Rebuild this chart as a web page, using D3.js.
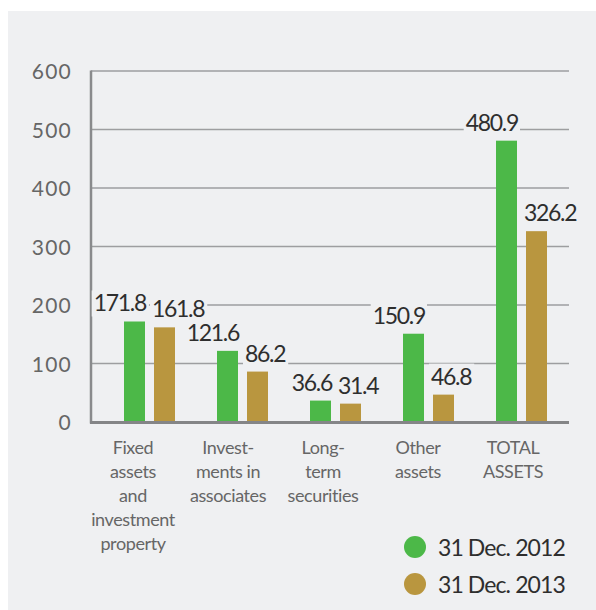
<!DOCTYPE html>
<html>
<head>
<meta charset="utf-8">
<script src="https://cdn.jsdelivr.net/npm/d3@7"></script>
<style>
  html, body { margin: 0; padding: 0; background: #ffffff; }
  svg { display: block; }
</style>
</head>
<body>
<svg id="chart" width="596" height="610"></svg>
<script>
// Assets breakdown, 2012 vs 2013
const categories = [
  ["Fixed", "assets", "and", "investment", "property"],
  ["Invest-", "ments in", "associates"],
  ["Long-", "term", "securities"],
  ["Other", "assets"],
  ["TOTAL", "ASSETS"]
];
const categoryKeys = ["fixed", "associates", "securities", "other", "total"];
const series2012 = [171.8, 121.6, 36.6, 150.9, 480.9];
const series2013 = [161.8, 86.2, 31.4, 46.8, 326.2];
const seriesNames = ["31 Dec. 2012", "31 Dec. 2013"];
const seriesColors = ["#4cb848", "#b9963f"];
const yTicks = [0, 100, 200, 300, 400, 500, 600];

const svg = d3.select("#chart");
const FONT = "Lato, 'Open Sans', sans-serif";
const PANEL = "#eff0f2";

svg.append("rect")
  .attr("x", 8).attr("y", 11)
  .attr("width", 588).attr("height", 599)
  .attr("fill", PANEL);

const plotLeft = 91, plotRight = 569;
const y = d3.scaleLinear().domain([0, 600]).range([422, 71]);

// bar group centres and category label centres
const xGroup = d3.scalePoint().domain(categoryKeys).range([149.5, 521.5]);
const xLabel = d3.scalePoint().domain(categoryKeys).range([133, 513]);
const xSeries = d3.scaleBand().domain([0, 1]).range([-25.5, 25.5]).paddingInner(0.3);

// gridlines
svg.append("g")
  .selectAll("line")
  .data(yTicks.filter(t => t > 0))
  .join("line")
  .attr("x1", plotLeft).attr("x2", plotRight)
  .attr("y1", d => y(d)).attr("y2", d => y(d))
  .attr("stroke", "#9d9ea0")
  .attr("stroke-width", 1.5);

// y axis line
svg.append("line")
  .attr("x1", plotLeft).attr("x2", plotLeft)
  .attr("y1", y(600) - 0.5).attr("y2", y(0) + 1.5)
  .attr("stroke", "#898a8c").attr("stroke-width", 2.5);

// tick labels
const yAxis = d3.axisLeft(y).tickValues(yTicks).tickSize(0).tickPadding(19);
const yAxisG = svg.append("g")
  .attr("transform", `translate(${plotLeft},0)`)
  .call(yAxis);
yAxisG.select(".domain").remove();
yAxisG.selectAll("text")
  .attr("font-family", FONT)
  .attr("font-weight", 400)
  .attr("font-size", 21)
  .attr("letter-spacing", 1.2)
  .attr("fill", "#666666")
  .attr("dy", "0.36em");

// bars
const rows = categoryKeys.map((k, i) => ({ key: k, values: [series2012[i], series2013[i]] }));
const groups = svg.append("g").selectAll("g")
  .data(rows)
  .join("g")
  .attr("transform", d => `translate(${xGroup(d.key)},0)`);

groups.selectAll("rect")
  .data(d => d.values.map((v, s) => ({ v, s })))
  .join("rect")
  .attr("x", d => xSeries(d.s))
  .attr("width", xSeries.bandwidth())
  .attr("y", d => y(d.v))
  .attr("height", d => y(0) - y(d.v))
  .attr("fill", d => seriesColors[d.s]);

// baseline
svg.append("line")
  .attr("x1", plotLeft - 1).attr("x2", plotRight)
  .attr("y1", y(0) + 0.5).attr("y2", y(0) + 0.5)
  .attr("stroke", "#848587").attr("stroke-width", 3);

// value labels with backgrounds that mask the gridlines
const labelLayer = svg.append("g");
rows.forEach(r => {
  r.values.forEach((v, s) => {
    const bx = xGroup(r.key) + xSeries(s);
    const g = labelLayer.append("g");
    const t = g.append("text")
      .attr("x", s === 0 ? bx + xSeries.bandwidth() + 1 : bx - 2)
      .attr("y", y(v) - 10)
      .attr("text-anchor", s === 0 ? "end" : "start")
      .attr("font-family", FONT)
      .attr("font-weight", 400)
      .attr("font-size", 23)
      .attr("letter-spacing", -1.3)
      .attr("fill", "#2e2e2e")
      .text(v.toFixed(1));
    const bb = t.node().getBBox();
    g.insert("rect", "text")
      .attr("x", bb.x - 2).attr("y", bb.y + 2)
      .attr("width", bb.width + 4).attr("height", bb.height - 2)
      .attr("fill", PANEL);
  });
});

// category labels
svg.append("g").selectAll("text")
  .data(categoryKeys)
  .join("text")
  .attr("x", d => xLabel(d))
  .attr("y", 454)
  .attr("text-anchor", "middle")
  .attr("font-family", FONT)
  .attr("font-weight", 400)
  .attr("font-size", 18)
  .attr("letter-spacing", -0.4)
  .attr("fill", "#666666")
  .selectAll("tspan")
  .data((d, i) => categories[i])
  .join("tspan")
  .attr("x", function () { return this.parentNode.getAttribute("x"); })
  .attr("dy", (d, i) => i === 0 ? 0 : 24)
  .text(d => d);

// legend
const legend = svg.append("g").selectAll("g")
  .data(seriesNames)
  .join("g")
  .attr("transform", (d, i) => `translate(415,${547 + i * 37})`);
legend.append("circle")
  .attr("r", 11)
  .attr("fill", (d, i) => seriesColors[i]);
legend.append("text")
  .attr("x", 23)
  .attr("y", 9)
  .attr("font-family", FONT)
  .attr("font-weight", 400)
  .attr("font-size", 23)
  .attr("letter-spacing", -0.9)
  .attr("fill", "#2e2e2e")
  .text(d => d);
</script>
</body>
</html>
